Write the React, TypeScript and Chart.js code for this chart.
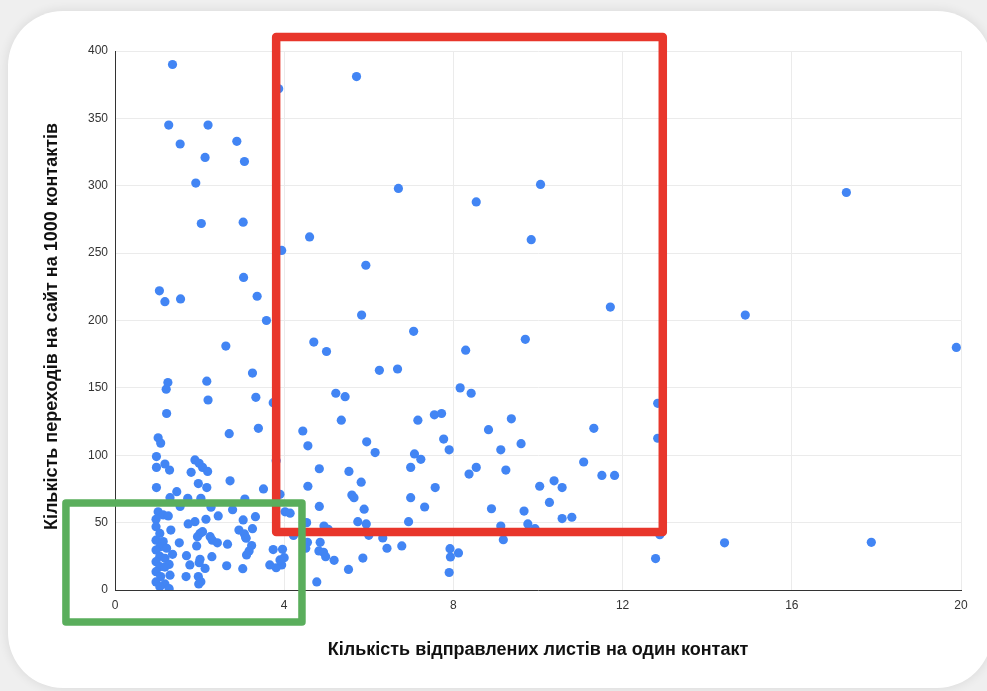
import React, { useEffect, useRef } from "react";
import { Chart, registerables } from "chart.js";

Chart.register(...registerables);

const xTitle = "Кількість відправлених листів на один контакт";
const yTitle = "Кількість переходів на сайт на 1000 контактів";

const xTicks = [0, 4, 8, 12, 16, 20];
const yTicks = [0, 50, 100, 150, 200, 250, 300, 350, 400];

// Emails sent per contact
const sentPerContact = [
  1.36, 1.27, 2.2, 1.54, 2.88, 2.13, 3.06, 1.91, 2.04, 3.03,
  3.87, 3.94, 4.6, 1.05, 1.18, 1.55, 3.04, 3.36, 3.58, 2.62,
  3.25, 2.17, 1.25, 1.21, 2.2, 3.33, 3.74, 4.7, 5.0, 5.22,
  5.71, 6.7, 8.54, 10.06, 9.84, 5.93, 11.71, 5.83, 7.06,
  9.7, 8.29, 6.25, 6.68, 8.16, 8.42, 5.44, 5.35, 7.16, 7.55,
  7.72, 9.37, 8.83, 11.32, 12.83, 12.83, 4.44, 4.56, 5.95, 6.15,
  7.77, 7.9, 9.12, 9.6, 7.08, 7.23, 3.81, 4.83, 5.53, 6.99,
  8.37, 8.54, 9.24, 11.08, 11.51, 11.81, 5.82, 4.56, 7.57, 10.04,
  10.38, 10.57, 5.6, 5.65, 6.99, 3.9, 4.83, 5.89, 7.32, 8.9,
  10.27, 9.67, 4.02, 4.14, 5.74, 5.94, 6.94, 10.57, 10.8, 9.12,
  9.76, 9.93, 4.53, 4.94, 5.04, 4.22, 4.55, 4.85, 6.0, 6.33,
  6.43, 6.78, 9.18, 12.88, 7.92, 8.12, 7.93, 12.78, 7.9, 4.51,
  4.82, 4.93, 4.98, 5.18, 5.86, 5.52, 4.77, 3.74, 3.96, 4.0,
  3.94, 3.81, 3.66,
  17.29, 14.9, 19.89, 14.41, 17.88,
  1.22, 2.7, 3.39, 1.02, 1.08, 0.98, 1.18, 0.98, 1.29, 0.98,
  1.46, 1.3, 1.89, 1.99, 2.07, 2.19, 1.8, 1.97, 2.17, 2.72,
  3.51, 1.72, 2.03, 3.07, 1.54, 2.27, 2.78, 2.44, 3.32, 3.03,
  2.15, 1.89, 1.73, 3.25, 2.93, 3.09, 2.01, 1.95, 2.07, 2.25,
  2.3, 2.42, 1.93, 1.52, 2.66, 3.23, 3.17, 3.11, 2.29, 1.69,
  2.01, 1.99, 1.77, 2.13, 2.64, 3.02, 1.68, 1.97, 2.03, 1.98,
  3.9, 3.06, 3.1,
  1.02, 1.14, 1.26, 0.97, 0.97, 1.32, 1.06, 0.97, 1.14, 1.06,
  1.22, 0.97, 1.36, 1.06, 1.18, 0.97, 1.28, 1.06, 1.18, 0.97,
  1.3, 1.08, 0.97, 1.18, 1.28, 1.06,
];

// Site visits per 1000 contacts
const clicksPer1000 = [
  390, 345, 345, 331, 333, 321, 318, 302, 272, 273,
  372, 252, 262, 222, 214, 216, 232, 218, 200, 181,
  161, 155, 154, 149, 141, 143, 139, 184, 177, 146,
  381, 298, 288, 301, 260, 241, 210, 204, 192,
  186, 178, 163, 164, 150, 146, 143.5, 126, 126, 130,
  131, 127, 119, 120, 138.5, 112.6, 118, 107, 110, 102,
  112, 104, 104, 108.6, 101, 97, 96, 90, 88, 91,
  86, 91, 89, 95, 85, 85, 80, 77, 76, 77,
  81, 76, 70.5, 68.5, 68.5, 71, 62, 60, 61.6, 60.3,
  65, 58.6, 58, 57, 50.7, 49, 50.7, 53, 54, 47.5,
  49, 45.5, 50, 47.5, 45, 40.5, 35.4, 35.4, 40.6, 38.6,
  31, 32.7, 37.3, 41, 30.7, 27.5, 24.5, 23.3, 13, 31,
  29, 28, 24.7, 22, 23.7, 15.3, 6, 30, 30.2, 24,
  18.6, 16.5, 18.6,
  295, 204, 180, 35, 35.4,
  131, 116, 120, 113, 109, 99, 93.5, 91, 89, 76,
  73, 68.5, 96.5, 94, 91, 88, 87.3, 79, 76, 81,
  75, 68, 68, 67.5, 62, 61.4, 59.6, 55, 54.4, 52,
  52.5, 50.7, 49, 45.5, 44.5, 39, 42, 39.6, 43.3, 39.6,
  37, 35, 32.7, 35, 34, 33, 29, 26, 24.7, 25.5,
  22.8, 20.3, 18.6, 16, 18, 15.8, 10, 10, 6.2, 4.5,
  22.3, 41.6, 38.4,
  58, 55.7, 55, 52.5, 47, 44.5, 42, 37, 36, 32,
  31, 29.7, 26.5, 25, 23.5, 21, 19, 17.3, 17, 13.6,
  11, 10, 6, 4.5, 1, 2.5,
];

// Highlight boxes in data units: [xMin, xMax, yMin, yMax]
const redBox = [3.81, 12.95, 43, 410.4];
const greenBox = [-1.16, 4.42, -23.7, 64.6];

const FONT = "'Liberation Sans', Arial, sans-serif";

const boxesPlugin = {
  id: "highlightBoxes",
  afterDraw(chart: any) {
    const { ctx, scales, chartArea } = chart;
    const xs = scales.x;
    const ys = scales.y;

    // rotated y-axis title
    ctx.save();
    ctx.translate(chartArea.left - 63, (chartArea.top + chartArea.bottom) / 2 + 6);
    ctx.rotate(-Math.PI / 2);
    ctx.font = `bold 18px ${FONT}`;
    ctx.fillStyle = "#111";
    ctx.textAlign = "center";
    ctx.textBaseline = "middle";
    ctx.fillText(yTitle, 0, 0);
    ctx.restore();

    const drawBox = (b: number[], color: string, lw: number) => {
      const x1 = xs.getPixelForValue(b[0]);
      const x2 = xs.getPixelForValue(b[1]);
      const y1 = ys.getPixelForValue(b[3]);
      const y2 = ys.getPixelForValue(b[2]);
      ctx.save();
      ctx.strokeStyle = color;
      ctx.lineWidth = lw;
      ctx.lineJoin = "round";
      ctx.beginPath();
      ctx.rect(x1, y1, x2 - x1, y2 - y1);
      ctx.stroke();
      ctx.restore();
    };
    drawBox(redBox, "#e8362b", 8.5);
    drawBox(greenBox, "#5aae5c", 7.5);
  },
};

export default function App() {
  const ref = useRef<HTMLCanvasElement | null>(null);

  useEffect(() => {
    if (!ref.current) return;
    const points = sentPerContact.map((x, i) => ({ x, y: clicksPer1000[i] }));
    const chart = new Chart(ref.current, {
      type: "scatter",
      data: {
        datasets: [
          {
            data: points,
            backgroundColor: "#4285f4",
            borderWidth: 0,
            pointRadius: 4.6,
            pointHoverRadius: 4.6,
          },
        ],
      },
      options: {
        responsive: false,
        animation: false,
        layout: { padding: { left: 0, top: 51, right: 26, bottom: 0 } },
        plugins: {
          legend: { display: false },
          tooltip: { enabled: false },
        },
        scales: {
          x: {
            type: "linear",
            min: 0,
            max: 20,
            afterFit: (s: any) => {
              s.height = 101;
            },
            afterBuildTicks: (s: any) => {
              s.ticks = xTicks.map((v) => ({ value: v }));
            },
            ticks: {
              color: "#333",
              font: { family: FONT, size: 12 },
              padding: 8,
              maxRotation: 0,
            },
            grid: { color: "#ebebeb", drawTicks: false },
            border: { display: true, color: "#333", width: 1 },
            title: {
              display: true,
              text: xTitle,
              color: "#111",
              font: { family: FONT, size: 18, weight: "bold" },
              padding: { top: 0, bottom: 30 },
            },
          },
          y: {
            type: "linear",
            min: 0,
            max: 400,
            afterFit: (s: any) => {
              s.width = 115;
            },
            afterBuildTicks: (s: any) => {
              s.ticks = yTicks.map((v) => ({ value: v }));
            },
            ticks: {
              color: "#333",
              font: { family: FONT, size: 12 },
              padding: 7,
            },
            grid: { color: "#ebebeb", drawTicks: false },
            border: { display: true, color: "#333", width: 1 },
            title: { display: false },
          },
        },
      },
      plugins: [boxesPlugin],
    });
    return () => chart.destroy();
  }, []);

  return (
    <div
      style={{
        position: "fixed",
        left: 0,
        top: 0,
        width: 987,
        height: 691,
        background: "#efefef",
        overflow: "hidden",
      }}
    >
      <div
        style={{
          position: "absolute",
          left: 8,
          top: 11,
          width: 984,
          height: 677,
          borderRadius: 55,
          background: "#ffffff",
          boxShadow: "0 0 10px 2px rgba(0,0,0,0.07)",
        }}
      />
      <canvas
        ref={ref}
        width={987}
        height={691}
        style={{ position: "absolute", left: 0, top: 0, width: 987, height: 691 }}
      />
    </div>
  );
}
